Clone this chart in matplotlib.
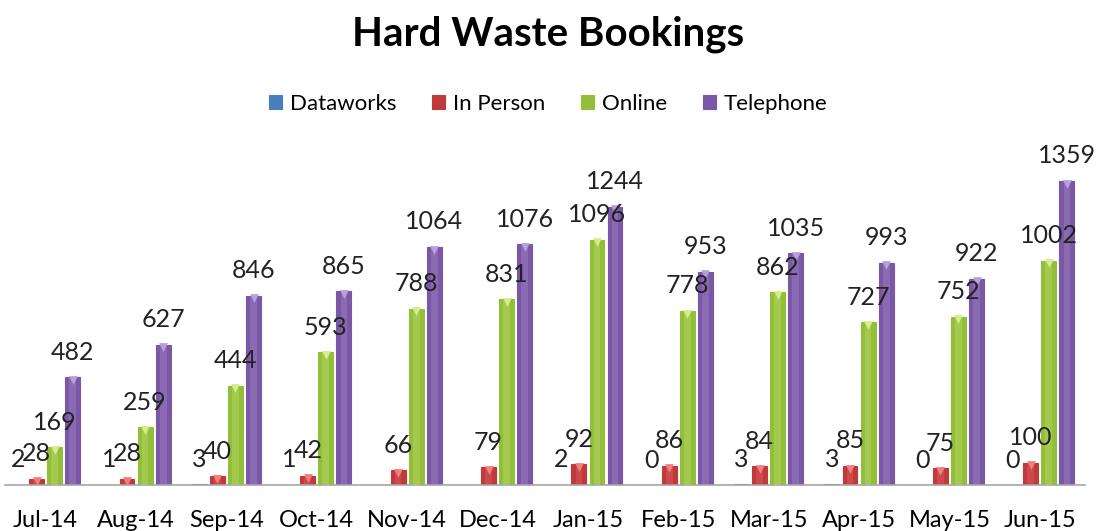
import numpy as np
import matplotlib
matplotlib.use('Agg')
import matplotlib.pyplot as plt

months = ['Jul-14', 'Aug-14', 'Sep-14', 'Oct-14', 'Nov-14', 'Dec-14',
          'Jan-15', 'Feb-15', 'Mar-15', 'Apr-15', 'May-15', 'Jun-15']
dataworks = [2, 1, 3, 1, np.nan, np.nan, 2, 0, 3, 3, 0, 0]
in_person = [28, 28, 40, 42, 66, 79, 92, 86, 84, 85, 75, 100]
online = [169, 259, 444, 593, 788, 831, 1096, 778, 862, 727, 752, 1002]
telephone = [482, 627, 846, 865, 1064, 1076, 1244, 953, 1035, 993, 922, 1359]

series = [('Dataworks', dataworks, '#4A7EBB', '#8DB3E2'),
          ('In Person', in_person, '#C0393B', '#F08080'),
          ('Online', online, '#93BE3A', '#D4EC8A'),
          ('Telephone', telephone, '#7A58A6', '#B9A0DC')]

plt.rcParams['font.family'] = ['Lato', 'DejaVu Sans']

fig = plt.figure(figsize=(10.96, 5.31), dpi=100)
ax = fig.add_axes([5 / 1096, 46 / 531, 1080 / 1096, 320 / 531])

x = np.arange(len(months))
step = 0.2
width = 0.165

for i, (name, vals, col, light) in enumerate(series):
    pos = x + (i - 1.5) * step
    v = np.array(vals, dtype=float)
    ax.bar(pos, np.maximum(v, 0.8), width, color=col, edgecolor=col,
           linewidth=0.8, label=name, zorder=2)
    # lighter centre strip for the bevel look
    ax.bar(pos, v, width * 0.45, color=light, alpha=0.25, linewidth=0, zorder=3)
    ok = ~np.isnan(v) & (v > 5)
    ax.scatter(pos[ok], v[ok] - 12, marker='v', s=40, color=light,
               linewidths=0, zorder=4)
    for p, val in zip(pos, vals):
        if np.isnan(val):
            continue
        ax.annotate(f'{int(val)}', (p, val), xytext=(0, 18),
                    textcoords='offset points', ha='center', va='center',
                    fontsize=18, color='#222222', zorder=5)

ax.set_xlim(-0.45, 11.5)
ax.set_ylim(0, 1430)
ax.set_xticks(x)
ax.set_xticklabels(months, fontsize=17)
ax.tick_params(axis='x', length=0, pad=18)
ax.set_yticks([])
for s in ['top', 'right', 'left']:
    ax.spines[s].set_visible(False)
ax.spines['bottom'].set_color('#A6A6A6')
ax.spines['bottom'].set_linewidth(1.2)

fig.text(0.5, 0.935, 'Hard Waste Bookings', ha='center', va='center',
         fontsize=29, fontweight='bold')
fig.legend(loc='center', bbox_to_anchor=(0.5, 0.804), ncol=4, frameon=False,
           fontsize=16, handlelength=0.6, handleheight=0.6, handletextpad=0.35,
           columnspacing=1.6)

fig.savefig('out.png', dpi=100)
